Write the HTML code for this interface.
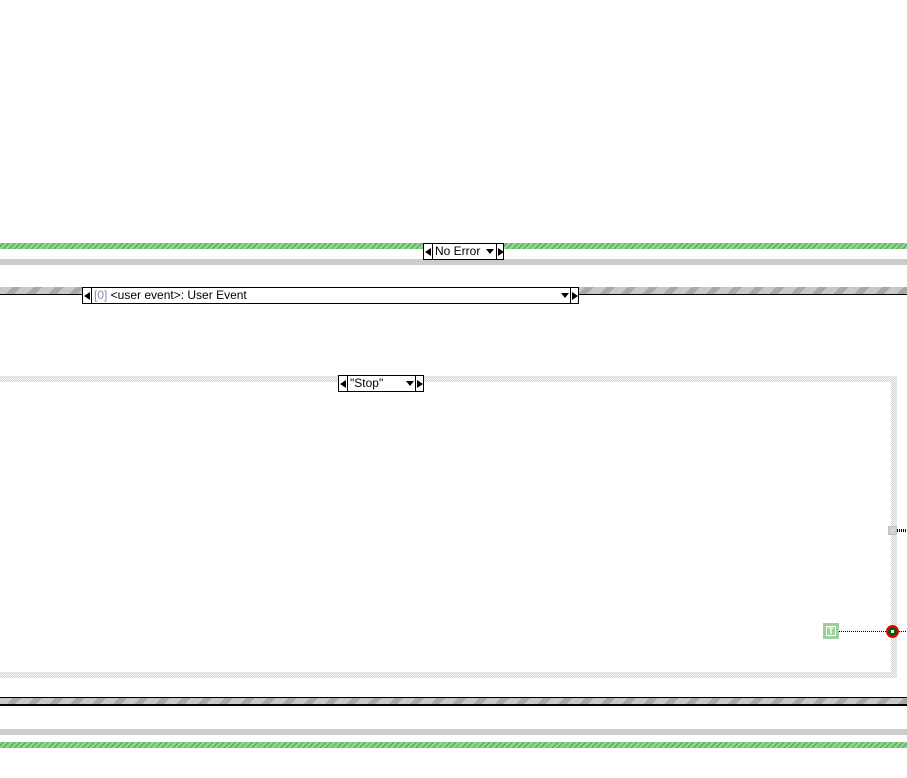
<!DOCTYPE html>
<html><head><meta charset="utf-8"><style>
body{margin:0;width:907px;height:778px;background:#fff;position:relative;overflow:hidden;font-family:"Liberation Sans",sans-serif}
div{position:absolute;box-sizing:border-box}
.green{background:repeating-linear-gradient(135deg,#8ad88a 0 2px,#5a9a5a 2px 3px,#8ad88a 3px 4px);background-color:#8ad88a}
.gray{background:#cccccc}
.stripe{background:repeating-linear-gradient(135deg,#c8c8c8 0 9px,#a8a8a8 9px 15px)}
.chk{background-image:repeating-conic-gradient(#d4d4d4 0 25%,#f4f4f4 0 50%);background-size:2px 2px}
.sel{border:1px solid #000;background:#fff;height:17px;font-size:12px;line-height:15px}
.la{width:0;height:0;border-top:4px solid transparent;border-bottom:4px solid transparent;border-right:6px solid #000}
.ra{width:0;height:0;border-top:4px solid transparent;border-bottom:4px solid transparent;border-left:6px solid #000}
.dn{width:0;height:0;border-left:4px solid transparent;border-right:4px solid transparent;border-top:5px solid #000}
</style></head><body>
<div class="green" style="left:0;top:243;top:243px;width:907px;height:6px"></div>
<div class="gray" style="left:0;top:259px;width:907px;height:6px"></div>
<div class="sel" style="left:423px;top:243px;width:81px">
 <div class="la" style="left:1px;top:4px"></div>
 <div style="left:8px;top:0;width:1px;height:15px;background:#000"></div>
 <div style="left:11px;top:0;color:#000">No Error</div>
 <div class="dn" style="left:62px;top:5px"></div>
 <div style="left:72px;top:0;width:1px;height:15px;background:#000"></div>
 <div class="ra" style="left:74px;top:4px"></div>
</div>

<div class="stripe" style="left:0;top:287px;width:907px;height:8px;border-bottom:1px solid #000"></div>
<div class="sel" style="left:82px;top:287px;width:497px">
 <div class="la" style="left:1px;top:4px"></div>
 <div style="left:8px;top:0;width:1px;height:15px;background:#000"></div>
 <div style="left:11px;top:0;color:#000;white-space:nowrap"><span style="color:#8a8ab0">[0]</span> &lt;user event&gt;: User Event</div>
 <div class="dn" style="left:478px;top:5px"></div>
 <div style="left:487px;top:0;width:1px;height:15px;background:#000"></div>
 <div class="ra" style="left:489px;top:4px"></div>
</div>

<div class="chk" style="left:0;top:376px;width:897px;height:6px"></div>
<div class="chk" style="left:891px;top:376px;width:6px;height:302px"></div>
<div class="chk" style="left:0;top:672px;width:897px;height:6px"></div>
<div class="sel" style="left:338px;top:375px;width:86px">
 <div class="la" style="left:1px;top:4px"></div>
 <div style="left:8px;top:0;width:1px;height:15px;background:#000"></div>
 <div style="left:11px;top:0;color:#000">"Stop"</div>
 <div class="dn" style="left:67px;top:5px"></div>
 <div style="left:76px;top:0;width:1px;height:15px;background:#000"></div>
 <div class="ra" style="left:78px;top:4px"></div>
</div>
<div style="left:888px;top:526px;width:9px;height:9px;background:#d0d0d0;border:1px solid #c0c0c0"><div style="left:3px;top:3px;width:1px;height:1px;background:#fff"></div></div>
<div style="left:897px;top:529px;width:10px;height:3px;background:repeating-linear-gradient(90deg,#000 0 1px,#fff 1px 2px)"></div>
<div style="left:823px;top:623px;width:16px;height:16px;background:#9ed09e;border:2px solid #9ed09e">
 <div style="left:1px;top:1px;width:10px;height:10px;border:1px solid #fff;color:#fff;font-size:9px;font-weight:bold;line-height:9px;text-align:center">T</div>
</div>
<div style="left:839px;top:631px;width:68px;height:1px;background:repeating-linear-gradient(90deg,#000 0 1px,transparent 1px 2px)"></div>
<div style="left:886px;top:625px;width:13px;height:13px;border-radius:50%;background:#0a5a0a;border:2px solid #e00"><div style="left:3px;top:3px;width:3px;height:3px;background:#fff"></div></div>

<div class="stripe" style="left:0;top:697px;width:907px;height:9px;border-top:1px solid #000;border-bottom:2px solid #000"></div>
<div class="gray" style="left:0;top:729px;width:907px;height:6px"></div>
<div class="green" style="left:0;top:742px;width:907px;height:6px"></div>
</body></html>
